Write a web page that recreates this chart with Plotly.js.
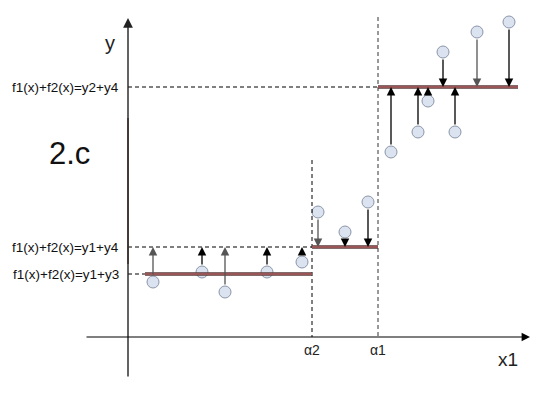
<!DOCTYPE html>
<html><head><meta charset="utf-8">
<script src="https://cdn.plot.ly/plotly-3.0.1.min.js"></script>
<style>html,body{margin:0;padding:0;background:#fff}#chart{width:545px;height:411px}</style>
</head><body><div id="chart"></div>
<script>
// diagram coordinates (x to the right, y downwards as in the picture)
const levelNames = ["f1(x)+f2(x)=y2+y4", "f1(x)+f2(x)=y1+y4", "f1(x)+f2(x)=y1+y3"];
const levelY = [87, 247, 274];
const alphaNames = ["α2", "α1"];
const alphaX = [312, 378];
// step function segments: [x start, x end, level y]
const stepX0 = [145, 312, 378];
const stepX1 = [312, 378, 518];
const stepY = [274, 247, 87];
// observations and their arrow targets
const pointX = [153, 202, 225, 267, 302, 318, 345, 368, 391, 418, 428, 443, 455, 477, 509];
const pointY = [282, 272, 292, 272, 262, 212, 232, 202, 152, 132, 101, 52, 132, 32, 22];
const targetY = [247, 247, 247, 247, 247, 247, 247, 247, 87, 87, 87, 87, 87, 87, 87];
const arrowGrey = [true, false, true, false, false, true, false, false, false, false, false, false, false, true, false];

const font = "Liberation Sans, Arial, sans-serif";
const shapes = [];
const annotations = [];

// dashed guide lines
shapes.push({type:"line", xref:"x", yref:"y", x0:128, x1:378, y0:levelY[0], y1:levelY[0], line:{color:"#000", width:1, dash:"4px,3px"}});
shapes.push({type:"line", xref:"x", yref:"y", x0:128, x1:312, y0:levelY[1], y1:levelY[1], line:{color:"#000", width:1, dash:"4px,3px"}});
shapes.push({type:"line", xref:"x", yref:"y", x0:128, x1:145, y0:levelY[2], y1:levelY[2], line:{color:"#000", width:1, dash:"4px,3px"}});
shapes.push({type:"line", xref:"x", yref:"y", x0:alphaX[0], x1:alphaX[0], y0:160, y1:337, line:{color:"#000", width:1, dash:"4px,3px"}});
shapes.push({type:"line", xref:"x", yref:"y", x0:alphaX[1], x1:alphaX[1], y0:17, y1:337, line:{color:"#333", width:1, dash:"4px,3px"}});

// reddish part of the y axis
shapes.push({type:"line", xref:"x", yref:"y", x0:128, x1:128, y0:118, y1:264, line:{color:"#7a4a4a", width:1.5}, layer:"above"});

// step segments
for (let i = 0; i < stepX0.length; i++) {
  shapes.push({type:"line", xref:"x", yref:"y", x0:stepX0[i], x1:stepX1[i], y0:stepY[i], y1:stepY[i], line:{color:"#5a3a3a", width:3.4}});
  shapes.push({type:"line", xref:"x", yref:"y", x0:stepX0[i], x1:stepX1[i], y0:stepY[i], y1:stepY[i], line:{color:"#b06060", width:1.4}});
}

// axes with arrows
annotations.push({x:128, y:18, ax:128, ay:378, xref:"x", yref:"y", axref:"x", ayref:"y", text:"", showarrow:true, arrowhead:2, arrowsize:1.4, arrowwidth:1.4, arrowcolor:"#222", standoff:0});
annotations.push({x:530, y:337, ax:85, ay:337, xref:"x", yref:"y", axref:"x", ayref:"y", text:"", showarrow:true, arrowhead:2, arrowsize:1.4, arrowwidth:1.2, arrowcolor:"#000", standoff:0});

// observation arrows
for (let i = 0; i < pointX.length; i++) {
  annotations.push({x:pointX[i], y:targetY[i], ax:pointX[i], ay:pointY[i], xref:"x", yref:"y", axref:"x", ayref:"y", text:"", showarrow:true, arrowhead:2, arrowsize:1.3, arrowwidth:1.3, arrowcolor: arrowGrey[i] ? "#555" : "#000", standoff:0, startstandoff:6});
}

// texts
annotations.push({x:110, y:43, xref:"x", yref:"y", text:"y", showarrow:false, font:{family:font, size:20, color:"#222"}});
annotations.push({x:508, y:359, xref:"x", yref:"y", text:"x1", showarrow:false, font:{family:font, size:19, color:"#222"}});
annotations.push({x:69, y:153, xref:"x", yref:"y", text:"2.c", showarrow:false, font:{family:font, size:31, color:"#111"}});
for (let i = 0; i < alphaNames.length; i++) {
  annotations.push({x:alphaX[i], y:350, xref:"x", yref:"y", text:alphaNames[i], showarrow:false, font:{family:font, size:14, color:"#222"}});
}
for (let i = 0; i < levelNames.length; i++) {
  annotations.push({x:121, y:levelY[i], xref:"x", yref:"y", text:levelNames[i], showarrow:false, xanchor:"right", font:{family:font, size:13.5, color:"#111"}});
}

const traces = [{
  type:"scatter", mode:"markers", x:pointX, y:pointY, hoverinfo:"skip",
  marker:{size:12, color:"#dbe3f0", line:{color:"#8a96a8", width:1}}
}];

Plotly.newPlot("chart", traces, {
  width:545, height:411, margin:{l:0, r:0, t:0, b:0},
  paper_bgcolor:"#fff", plot_bgcolor:"#fff", showlegend:false,
  xaxis:{range:[0,545], visible:false, fixedrange:true},
  yaxis:{range:[411,0], visible:false, fixedrange:true},
  shapes:shapes, annotations:annotations
}, {staticPlot:true});
</script></body></html>
